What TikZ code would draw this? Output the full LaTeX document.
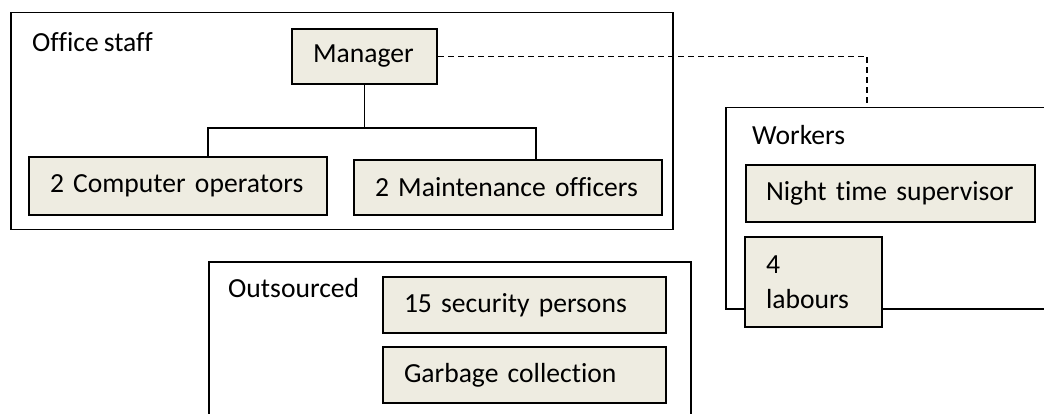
\documentclass[tikz,border=0pt]{standalone}
\usepackage{fontspec}
\setmainfont[Ligatures=NoCommon, WordSpace=0.8]{Carlito}
\definecolor{boxfill}{HTML}{EEECE1}
\begin{document}
\begin{tikzpicture}[x=1pt,y=-1pt,
  every node/.style={font=\fontsize{27.6pt}{35pt}\selectfont},
  group/.style={draw, line width=1.5pt, anchor=north west, inner sep=0pt},
  unit/.style={draw, fill=boxfill, line width=2pt, anchor=north west,
    inner xsep=21pt, inner ysep=0pt, align=left},
  caption/.style={anchor=base west, inner sep=0pt},
  link/.style={line width=1.5pt},
  dotted link/.style={line width=1.4pt, dash pattern=on 6pt off 4pt}]
\clip (0,0) rectangle (1044,414);

% group frames
\node[group, minimum width=662pt, minimum height=217pt] (office) at (10,12) {};
\node[group, minimum width=340pt, minimum height=201pt] (workers) at (725,107) {};
\node[group, minimum width=482pt, minimum height=170pt] (outs) at (208,261) {};

\node[caption] (officeT) at (32,52) {Office staff};
\node[caption] (workersT) at (752,145) {Workers};
\node[caption] (outsT) at (228,297) {Outsourced};

% office staff
\node[unit, text width=103pt, minimum height=55pt] (man) at (291,28) {Manager};
\node[unit, text width=256pt, minimum height=58pt] (comp) at (28,156) {2 Computer operators};
\node[unit, text width=266pt, minimum height=55pt] (maint) at (353,159) {2 Maintenance officers};

% workers
\node[unit, inner xsep=20pt, text width=249pt, minimum height=57pt] (night) at (745,164) {Night time supervisor};
\node[unit, text width=95pt, minimum height=90pt] (lab) at (744,236) {4\\labours};

% outsourced
\node[unit, text width=241pt, minimum height=56pt] (sec) at (382,276) {15 security persons};
\node[unit, text width=241pt, minimum height=56pt] (garb) at (382,346) {Garbage collection};

% reporting lines
\coordinate (busL) at (208,128);
\coordinate (busR) at (536,128);
\draw[link] (man.south) -- (man.south |- busL);
\draw[link] (comp.north -| busL) -- (busL) -- (busR) -- (maint.north -| busR);

\coordinate (wtop) at (867,107);
\draw[dotted link] (man.east) -- (man.east -| wtop) -- (wtop);
\end{tikzpicture}
\end{document}
